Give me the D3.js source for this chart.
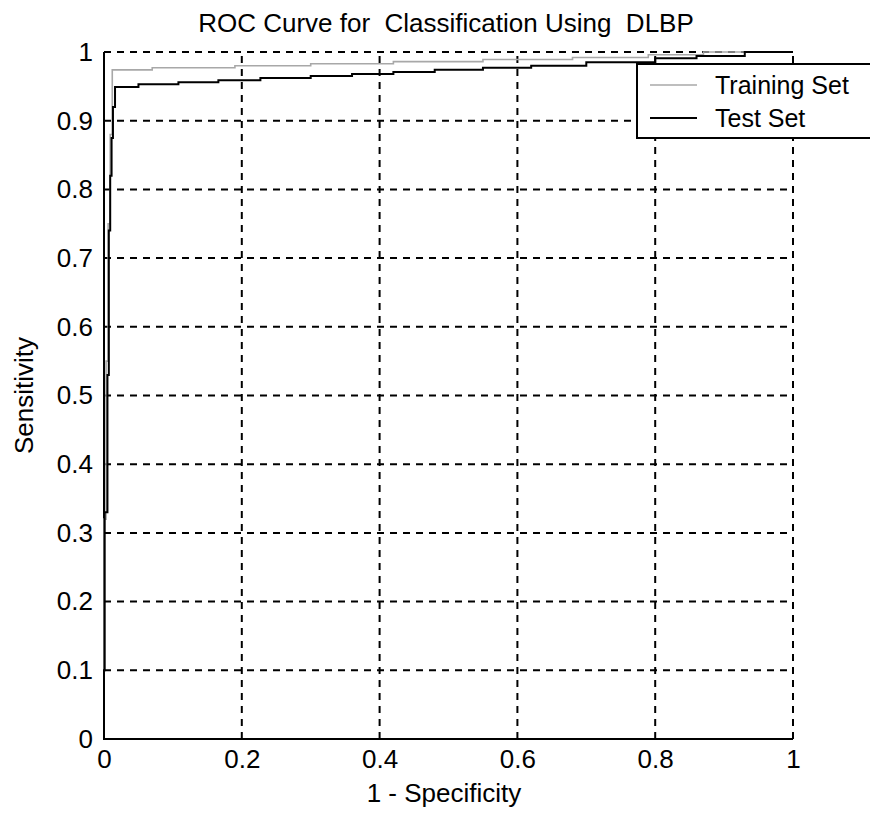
<!DOCTYPE html>
<html>
<head>
<meta charset="utf-8">
<script src="https://cdn.jsdelivr.net/npm/d3@7"></script>
<style>
  body { margin: 0; background: #fff; }
  svg { display: block; font-family: "Liberation Sans", Arial, sans-serif; }
</style>
</head>
<body>
<div id="display"></div>
<script>
// ROC points (false positive rate, true positive rate)
const trainFpr = [0, 0, 0.003, 0.003, 0.006, 0.006, 0.009, 0.009, 0.012, 0.012, 0.07, 0.07, 0.19, 0.19, 0.30, 0.30, 0.42, 0.42, 0.55, 0.55, 0.68, 0.68, 0.79, 0.79, 0.87, 0.87, 1]
const trainTpr = [0, 0.32, 0.32, 0.55, 0.55, 0.75, 0.75, 0.88, 0.88, 0.974, 0.974, 0.977, 0.977, 0.980, 0.980, 0.983, 0.983, 0.986, 0.986, 0.989, 0.989, 0.992, 0.992, 0.996, 0.996, 1, 1]

const testFpr = [0, 0, 0.001, 0.001, 0.005, 0.005, 0.007, 0.007, 0.009, 0.009, 0.011, 0.011, 0.013, 0.013, 0.016, 0.016, 0.05, 0.05, 0.108, 0.108, 0.166, 0.166, 0.227, 0.227, 0.30, 0.30, 0.36, 0.36, 0.42, 0.42, 0.48, 0.48, 0.55, 0.55, 0.62, 0.62, 0.70, 0.70, 0.80, 0.80, 0.86, 0.86, 0.93, 0.93, 1]
const testTpr = [0, 0.10, 0.10, 0.33, 0.33, 0.53, 0.53, 0.74, 0.74, 0.82, 0.82, 0.875, 0.875, 0.92, 0.92, 0.949, 0.949, 0.953, 0.953, 0.956, 0.956, 0.959, 0.959, 0.962, 0.962, 0.965, 0.965, 0.968, 0.968, 0.971, 0.971, 0.974, 0.974, 0.977, 0.977, 0.980, 0.980, 0.985, 0.985, 0.991, 0.991, 0.994, 0.994, 1, 1]

const xTicks = [0, 0.2, 0.4, 0.6, 0.8, 1]
const xTickLabels = ["0", "0.2", "0.4", "0.6", "0.8", "1"]
const yTicks = [0, 0.1, 0.2, 0.3, 0.4, 0.5, 0.6, 0.7, 0.8, 0.9, 1]
const yTickLabels = ["0", "0.1", "0.2", "0.3", "0.4", "0.5", "0.6", "0.7", "0.8", "0.9", "1"]

const seriesNames = ["Training Set", "Test Set"]

const width = 870
const height = 816
const margin = { left: 104, right: 77, top: 52, bottom: 77 }

const svg = d3.select("#display")
  .append("svg")
  .attr("width", width)
  .attr("height", height)

const x = d3.scaleLinear().domain([0, 1]).range([margin.left, width - margin.right])
const y = d3.scaleLinear().domain([0, 1]).range([height - margin.bottom, margin.top])

// dashed grid
svg.append("g")
  .selectAll("line")
  .data(xTicks.slice(1))
  .enter()
  .append("line")
    .attr("x1", d => x(d)).attr("x2", d => x(d))
    .attr("y1", y(0)).attr("y2", y(1))
    .attr("stroke", "#000")
    .attr("stroke-width", 2)
    .attr("stroke-dasharray", "7,6")

svg.append("g")
  .selectAll("line")
  .data(yTicks.slice(1))
  .enter()
  .append("line")
    .attr("x1", x(0)).attr("x2", x(1))
    .attr("y1", d => y(d)).attr("y2", d => y(d))
    .attr("stroke", "#000")
    .attr("stroke-width", 2)
    .attr("stroke-dasharray", "7,6")

// axes
const xAxis = svg.append("g")
  .attr("transform", `translate(0, ${y(0)})`)
  .call(d3.axisBottom(x).tickValues(xTicks).tickSize(0).tickPadding(11)
    .tickFormat((d, i) => xTickLabels[i]))

const yAxis = svg.append("g")
  .attr("transform", `translate(${x(0)}, 0)`)
  .call(d3.axisLeft(y).tickValues(yTicks).tickSize(0).tickPadding(11)
    .tickFormat((d, i) => yTickLabels[i]))

svg.selectAll(".domain").remove()
svg.selectAll(".tick text")
  .attr("font-family", "'Liberation Sans', Arial, sans-serif")
  .attr("font-size", 26)
  .attr("fill", "#000")

svg.append("line")
  .attr("x1", x(0)).attr("x2", x(0)).attr("y1", y(0) + 1).attr("y2", y(1))
  .attr("stroke", "#000").attr("stroke-width", 2)
svg.append("line")
  .attr("x1", x(0) - 1).attr("x2", x(1)).attr("y1", y(0)).attr("y2", y(0))
  .attr("stroke", "#000").attr("stroke-width", 2)

// curves
const line = d3.line().x(d => x(d[0])).y(d => y(d[1]))

svg.append("path")
  .datum(d3.zip(trainFpr, trainTpr))
  .attr("d", line)
  .attr("fill", "none")
  .attr("stroke", "#a8a8a8")
  .attr("stroke-width", 1.6)

svg.append("path")
  .datum(d3.zip(testFpr, testTpr))
  .attr("d", line)
  .attr("fill", "none")
  .attr("stroke", "#000")
  .attr("stroke-width", 2)

// legend
const legend = svg.append("g")
legend.append("rect")
  .attr("x", 637).attr("y", 64)
  .attr("width", 260).attr("height", 74)
  .attr("fill", "#fff")
  .attr("stroke", "#000")
  .attr("stroke-width", 2)

const legendColors = ["#a8a8a8", "#000"]
const legendWidths = [1.6, 2]
seriesNames.forEach((name, i) => {
  const ly = 85 + i * 33
  legend.append("line")
    .attr("x1", 650).attr("x2", 697).attr("y1", ly).attr("y2", ly)
    .attr("stroke", legendColors[i]).attr("stroke-width", legendWidths[i])
  legend.append("text")
    .attr("x", 715).attr("y", ly + 9)
    .attr("font-size", 25)
    .text(name)
})

// titles
svg.append("text")
  .attr("x", 446).attr("y", 32)
  .attr("text-anchor", "middle")
  .attr("font-size", 26)
  .style("white-space", "pre")
  .text("ROC Curve for  Classification Using  DLBP")

svg.append("text")
  .attr("x", 444).attr("y", 802)
  .attr("text-anchor", "middle")
  .attr("font-size", 26)
  .text("1 - Specificity")

svg.append("text")
  .attr("transform", `translate(33, ${(y(0) + y(1)) / 2}) rotate(-90)`)
  .attr("text-anchor", "middle")
  .attr("font-size", 26)
  .text("Sensitivity")
</script>
</body>
</html>
